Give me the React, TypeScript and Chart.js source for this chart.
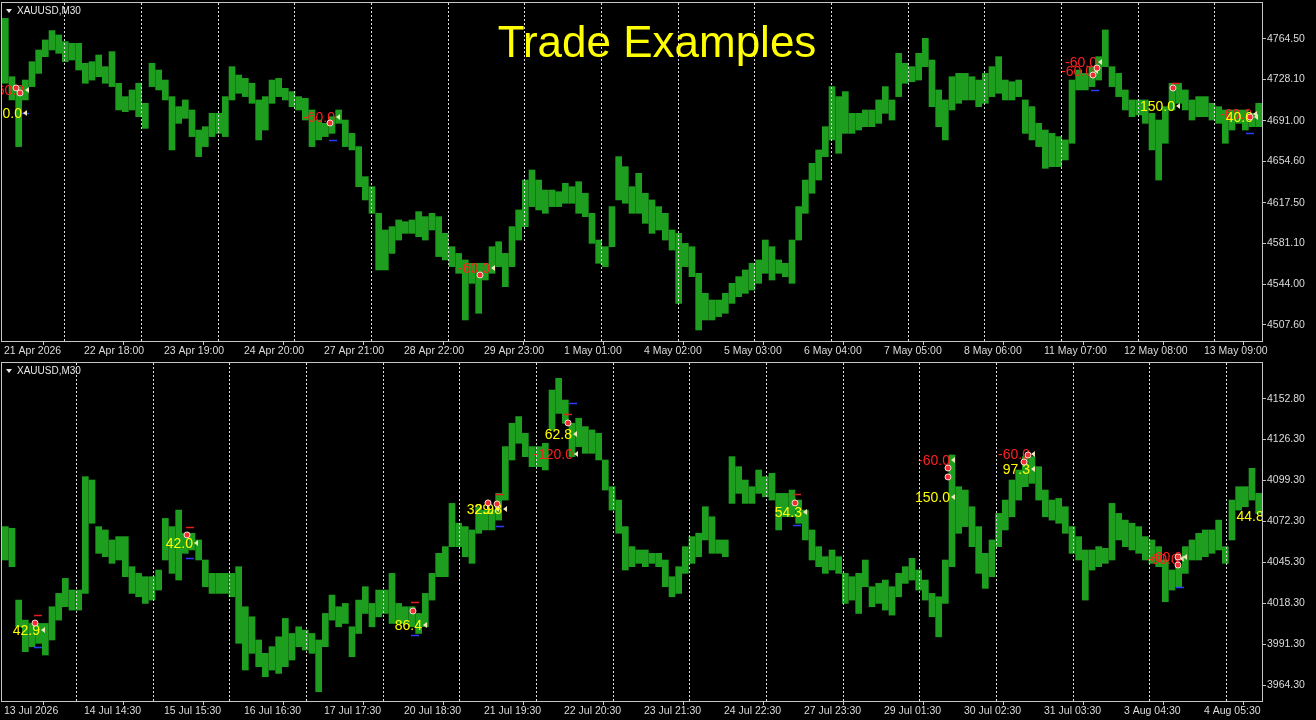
import React, { useEffect, useRef } from "react";
import { Chart, registerables } from "chart.js";

Chart.register(...registerables);

// ---------- data: top panel (XAUUSD M30, 21 Apr – 13 May 2026), one point = 4 bars ----------
const TOP_HIGH = [
  4783.0, 4730.6, 4721.7, 4727.6, 4744.1, 4754.6, 4763.6, 4772.0, 4768.1, 4762.1,
  4760.6, 4760.6, 4742.6, 4744.1, 4750.1, 4739.6, 4753.1, 4724.7, 4712.7, 4718.7,
  4724.7, 4706.7, 4742.6, 4736.6, 4727.6, 4712.7, 4703.7, 4709.7, 4700.7, 4682.7,
  4685.7, 4697.7, 4697.7, 4712.7, 4739.6, 4732.1, 4729.1, 4724.7, 4709.7, 4712.7,
  4727.6, 4729.1, 4720.2, 4717.2, 4712.7, 4711.2, 4700.7, 4691.7, 4688.7, 4694.7,
  4700.7, 4691.7, 4679.7, 4667.8, 4640.8, 4631.8, 4607.9, 4592.9, 4595.9, 4601.9,
  4600.4, 4601.9, 4609.4, 4604.9, 4607.9, 4604.9, 4589.9, 4577.9, 4571.9, 4566.0,
  4563.0, 4563.0, 4563.0, 4577.9, 4582.4, 4571.9, 4595.9, 4610.9, 4637.8, 4646.8,
  4637.8, 4628.8, 4628.8, 4627.3, 4634.8, 4631.8, 4636.3, 4625.9, 4607.9, 4583.9,
  4577.9, 4613.9, 4658.8, 4649.8, 4631.8, 4643.8, 4625.9, 4619.9, 4613.9, 4607.9,
  4592.9, 4589.9, 4580.9, 4577.9, 4554.0, 4536.0, 4530.0, 4530.0, 4536.0, 4545.0,
  4551.0, 4557.0, 4563.0, 4566.0, 4583.9, 4577.9, 4566.0, 4563.0, 4583.9, 4613.9,
  4637.8, 4652.8, 4664.8, 4685.7, 4721.7, 4712.7, 4717.2, 4697.7, 4697.7, 4700.7,
  4700.7, 4709.7, 4721.7, 4709.7, 4751.6, 4742.6, 4739.6, 4751.6, 4765.1, 4745.6,
  4718.7, 4709.7, 4730.6, 4733.6, 4733.6, 4730.6, 4727.6, 4733.6, 4739.6, 4748.6,
  4727.6, 4726.1, 4727.6, 4709.7, 4703.7, 4688.7, 4682.7, 4679.7, 4676.8, 4673.8,
  4727.6, 4736.6, 4733.6, 4739.6, 4748.6, 4772.6, 4739.6, 4733.6, 4718.7, 4709.7,
  4709.7, 4709.7, 4697.7, 4691.7, 4703.7, 4724.7, 4724.7, 4718.7, 4709.7, 4712.7,
  4712.7, 4706.7, 4703.7, 4700.7, 4700.7, 4700.7, 4700.7, 4697.7, 4706.7,
];
const TOP_LOW = [
  4724.7, 4709.7, 4667.8, 4709.7, 4721.7, 4733.6, 4748.6, 4754.6, 4751.6, 4744.1,
  4745.6, 4736.6, 4724.7, 4727.6, 4730.6, 4724.7, 4721.7, 4700.7, 4699.2, 4700.7,
  4694.7, 4684.2, 4721.7, 4718.7, 4709.7, 4664.8, 4688.7, 4693.2, 4676.8, 4658.8,
  4667.8, 4676.8, 4679.7, 4676.8, 4709.7, 4715.7, 4712.7, 4706.7, 4673.8, 4682.7,
  4706.7, 4712.7, 4709.7, 4703.7, 4700.7, 4691.7, 4667.8, 4673.8, 4676.8, 4679.7,
  4688.7, 4667.8, 4664.8, 4631.8, 4619.9, 4607.9, 4557.0, 4557.0, 4571.9, 4583.9,
  4589.9, 4589.9, 4586.9, 4583.9, 4592.9, 4569.0, 4566.0, 4560.0, 4554.0, 4512.1,
  4545.0, 4518.1, 4548.0, 4554.0, 4560.0, 4542.0, 4560.0, 4583.9, 4595.9, 4613.9,
  4610.9, 4607.9, 4613.9, 4613.9, 4616.9, 4616.9, 4607.9, 4604.9, 4580.9, 4563.0,
  4560.0, 4577.9, 4619.9, 4616.9, 4607.9, 4607.9, 4598.9, 4589.9, 4592.9, 4583.9,
  4574.9, 4527.0, 4560.0, 4551.0, 4503.1, 4512.1, 4512.1, 4515.1, 4518.1, 4527.0,
  4533.0, 4536.0, 4539.0, 4545.0, 4554.0, 4548.0, 4554.0, 4551.0, 4545.0, 4583.9,
  4607.9, 4625.9, 4637.8, 4658.8, 4673.8, 4661.8, 4679.7, 4679.7, 4682.7, 4685.7,
  4685.7, 4688.7, 4697.7, 4691.7, 4712.7, 4724.7, 4726.1, 4727.6, 4739.6, 4703.7,
  4685.7, 4673.8, 4700.7, 4706.7, 4709.7, 4709.7, 4703.7, 4706.7, 4712.7, 4715.7,
  4709.7, 4709.7, 4712.7, 4679.7, 4673.8, 4667.8, 4648.3, 4649.8, 4649.8, 4655.8,
  4670.8, 4718.7, 4718.7, 4721.7, 4727.6, 4739.6, 4721.7, 4712.7, 4700.7, 4694.7,
  4696.2, 4688.7, 4664.8, 4637.8, 4670.8, 4700.7, 4706.7, 4700.7, 4691.7, 4694.7,
  4694.7, 4691.7, 4688.7, 4670.8, 4682.7, 4688.7, 4682.7, 4685.7, 4685.7,
];

// ---------- data: bottom panel (XAUUSD M30, 13 Jul – 4 Aug 2026) ----------
const BOT_HIGH = [
  4068.7, 4067.6, 4020.3, 4007.1, 4004.9, 4004.9, 4004.9, 4015.9, 4024.7, 4034.6,
  4026.9, 4026.9, 4101.6, 4099.4, 4068.7, 4066.5, 4059.9, 4062.1, 4062.1, 4042.3,
  4037.9, 4035.7, 4035.7, 4040.1, 4074.1, 4068.7, 4079.6, 4064.3, 4064.3, 4059.9,
  4046.7, 4037.9, 4037.9, 4037.9, 4037.9, 4042.3, 4015.9, 4009.3, 3994.0, 3985.2,
  3989.6, 3996.1, 4008.2, 3998.3, 4002.7, 4000.5, 3998.3, 3994.0, 4011.5, 4023.6,
  4015.9, 4018.1, 4002.7, 4020.3, 4029.1, 4018.1, 4026.9, 4026.9, 4037.9, 4018.1,
  4015.9, 4015.9, 4011.5, 4024.7, 4037.9, 4051.1, 4055.5, 4084.0, 4070.9, 4068.7,
  4066.5, 4081.8, 4079.6, 4079.6, 4090.6, 4121.4, 4136.8, 4141.2, 4130.2, 4121.4,
  4121.4, 4123.6, 4158.7, 4166.4, 4152.1, 4136.8, 4140.1, 4134.6, 4132.4, 4130.2,
  4112.6, 4095.0, 4086.2, 4068.7, 4055.5, 4053.3, 4053.3, 4051.1, 4051.1, 4046.7,
  4035.7, 4042.3, 4055.5, 4062.1, 4064.3, 4081.8, 4075.2, 4059.9, 4059.9, 4114.8,
  4108.2, 4099.4, 4095.0, 4106.0, 4101.6, 4103.8, 4090.6, 4090.6, 4092.8, 4086.2,
  4079.6, 4066.5, 4055.5, 4048.9, 4053.3, 4048.9, 4037.9, 4035.7, 4037.9, 4046.7,
  4029.1, 4031.3, 4033.5, 4029.1, 4037.9, 4042.3, 4047.8, 4040.1, 4033.5, 4024.7,
  4022.5, 4046.7, 4115.9, 4095.0, 4092.8, 4081.8, 4068.7, 4051.1, 4059.9, 4077.4,
  4086.2, 4099.4, 4106.0, 4114.8, 4114.8, 4108.2, 4092.8, 4086.2, 4087.3, 4081.8,
  4068.7, 4062.1, 4053.3, 4053.3, 4055.5, 4054.4, 4084.0, 4077.4, 4073.0, 4070.9,
  4068.7, 4062.1, 4059.9, 4055.5, 4046.7, 4040.1, 4042.3, 4055.5, 4059.9, 4064.3,
  4066.5, 4066.5, 4073.0, 4055.5, 4086.2, 4095.0, 4095.0, 4107.1, 4090.6,
];
const BOT_LOW = [
  4046.7, 4042.3, 4002.7, 3986.3, 3989.6, 3991.8, 3984.1, 3994.0, 4007.1, 4015.9,
  4013.7, 4013.7, 4024.7, 4070.9, 4051.1, 4048.9, 4044.5, 4046.7, 4035.7, 4024.7,
  4022.5, 4018.1, 4020.3, 4026.9, 4046.7, 4037.9, 4033.5, 4051.1, 4053.3, 4046.7,
  4029.1, 4024.7, 4024.7, 4024.7, 4022.5, 3991.8, 3974.2, 3985.2, 3976.4, 3969.8,
  3974.2, 3972.0, 3976.4, 3980.8, 3989.6, 3987.4, 3985.2, 3959.9, 3989.6, 4007.1,
  4002.7, 4004.9, 3983.0, 3998.3, 4011.5, 4002.7, 4009.3, 4011.5, 4004.9, 4004.9,
  4004.9, 4002.7, 3998.3, 4002.7, 4020.3, 4035.7, 4035.7, 4055.5, 4055.5, 4048.9,
  4044.5, 4064.3, 4066.5, 4066.5, 4073.0, 4086.2, 4112.6, 4123.6, 4114.8, 4108.2,
  4108.2, 4106.0, 4132.4, 4143.3, 4136.8, 4114.8, 4121.4, 4117.0, 4117.0, 4112.6,
  4092.8, 4079.6, 4064.3, 4040.1, 4042.3, 4044.5, 4042.3, 4044.5, 4042.3, 4029.1,
  4022.5, 4024.7, 4037.9, 4044.5, 4048.9, 4059.9, 4051.1, 4051.1, 4048.9, 4084.0,
  4090.6, 4084.0, 4084.0, 4090.6, 4088.4, 4086.2, 4066.5, 4075.2, 4075.2, 4070.9,
  4059.9, 4046.7, 4042.3, 4037.9, 4040.1, 4037.9, 4018.1, 4020.3, 4011.5, 4029.1,
  4015.9, 4018.1, 4013.7, 4010.4, 4022.5, 4031.3, 4033.5, 4026.9, 4020.3, 4009.3,
  3996.1, 4018.1, 4042.3, 4064.3, 4068.7, 4055.5, 4037.9, 4028.0, 4035.7, 4055.5,
  4066.5, 4075.2, 4086.2, 4095.0, 4097.2, 4086.2, 4075.2, 4073.0, 4070.9, 4064.3,
  4051.1, 4046.7, 4020.3, 4040.1, 4042.3, 4044.5, 4046.7, 4059.9, 4055.5, 4053.3,
  4051.1, 4046.7, 4044.5, 4042.3, 4019.2, 4026.9, 4029.1, 4037.9, 4046.7, 4046.7,
  4048.9, 4051.1, 4053.3, 4044.5, 4059.9, 4079.6, 4081.8, 4086.2, 4077.4,
];

// ---------- axis labels / ticks ----------
const TOP_X_LABELS = [
  "21 Apr 2026", "22 Apr 18:00", "23 Apr 19:00", "24 Apr 20:00", "27 Apr 21:00", "28 Apr 22:00",
  "29 Apr 23:00", "1 May 01:00", "4 May 02:00", "5 May 03:00", "6 May 04:00", "7 May 05:00",
  "8 May 06:00", "11 May 07:00", "12 May 08:00", "13 May 09:00",
];
const BOT_X_LABELS = [
  "13 Jul 2026", "14 Jul 14:30", "15 Jul 15:30", "16 Jul 16:30", "17 Jul 17:30", "20 Jul 18:30",
  "21 Jul 19:30", "22 Jul 20:30", "23 Jul 21:30", "24 Jul 22:30", "27 Jul 23:30", "29 Jul 01:30",
  "30 Jul 02:30", "31 Jul 03:30", "3 Aug 04:30", "4 Aug 05:30",
];
// label tick positions in M30 bar units
const X_LABEL_POS = [0.6, 48.6, 96.6, 144.6, 192.6, 240.6, 288.6, 336.6, 384.6, 432.6, 480.6, 528.6, 576.6, 624.6, 672.6, 720.6];
// day separators in M30 bar units
const TOP_SEPARATORS = [14.7, 60.7, 106.7, 152.7, 198.7, 244.7, 290.7, 336.7, 382.7, 428.7, 474.7, 520.7, 566.7, 612.7, 658.7, 704.7, 750.7];
const BOT_SEPARATORS = [21.6, 67.6, 113.6, 159.6, 205.6, 251.6, 297.6, 343.6, 389.6, 435.6, 481.6, 527.6, 573.6, 619.6, 665.6, 711.6];

const TOP_Y_TICKS = [4507.6, 4544.0, 4581.1, 4617.5, 4654.6, 4691.0, 4728.1, 4764.5];
const BOT_Y_TICKS = [3964.3, 3991.3, 4018.3, 4045.3, 4072.3, 4099.3, 4126.3, 4152.8];

// ---------- trade annotations ----------
const RED = "#ff2020";
const YEL = "#ffff00";
const TOP_NOTES = [
  { x: 13.2, y: 4718.7, text: "-60.0", color: RED },
  { x: 12.0, y: 4698.0, text: "150.0", color: YEL },
  { x: 199.8, y: 4694.4, text: "-60.0", color: RED },
  { x: 292.8, y: 4558.8, text: "-60.0", color: RED },
  { x: 657.0, y: 4743.8, text: "-60.0", color: RED },
  { x: 654.6, y: 4735.7, text: "-60.0", color: RED },
  { x: 703.8, y: 4704.3, text: "150.0", color: YEL },
  { x: 750.0, y: 4697.1, text: "-60.0", color: RED },
  { x: 750.6, y: 4694.4, text: "40.0", color: YEL },
];
const BOT_NOTES = [
  { x: 22.8, y: 4000.6, text: "42.9", color: YEL },
  { x: 114.6, y: 4057.9, text: "42.0", color: YEL },
  { x: 252.0, y: 4003.9, text: "86.4", color: YEL },
  { x: 295.2, y: 4080.3, text: "32.9", color: YEL },
  { x: 300.0, y: 4080.3, text: "29.8", color: YEL },
  { x: 342.0, y: 4129.7, text: "62.8", color: YEL },
  { x: 342.6, y: 4116.6, text: "-120.0", color: RED },
  { x: 480.0, y: 4078.3, text: "54.3", color: YEL },
  { x: 568.8, y: 4112.6, text: "-60.0", color: RED },
  { x: 568.8, y: 4088.2, text: "150.0", color: YEL },
  { x: 616.8, y: 4116.6, text: "-60.0", color: RED },
  { x: 616.8, y: 4106.7, text: "97.3", color: YEL },
  { x: 708.0, y: 4048.7, text: "-60.0", color: RED },
  { x: 706.0, y: 4047.5, text: "-60.0", color: RED },
  { x: 757.0, y: 4075.7, text: "44.8", color: YEL },
];
const TOP_MARKS = [
  { x: 8.4, y: 4720.5 }, { x: 10.8, y: 4716.0 }, { x: 196.8, y: 4689.0 }, { x: 286.8, y: 4552.5 },
  { x: 654.6, y: 4732.1 }, { x: 657.0, y: 4738.4 }, { x: 702.6, y: 4720.5 }, { x: 748.8, y: 4694.4 },
];
const BOT_MARKS = [
  { x: 19.8, y: 4005.2 }, { x: 111.0, y: 4063.2 }, { x: 246.6, y: 4013.1 }, { x: 291.6, y: 4084.3 },
  { x: 297.0, y: 4083.6 }, { x: 339.6, y: 4137.0 }, { x: 475.8, y: 4084.3 }, { x: 567.6, y: 4107.3 },
  { x: 567.6, y: 4101.4 }, { x: 615.6, y: 4115.9 }, { x: 613.2, y: 4111.3 }, { x: 705.6, y: 4048.7 },
  { x: 705.6, y: 4043.4 },
];
const TOP_STOPS = [{ x: 704.4, y: 4725.0 }];
const TOP_TAKES = [{ x: 13.8, y: 4698.0 }, { x: 198.6, y: 4673.7 }, { x: 655.8, y: 4718.7 }, { x: 748.8, y: 4680.0 }];
const BOT_STOPS = [
  { x: 21.6, y: 4010.5 }, { x: 112.8, y: 4068.5 }, { x: 247.8, y: 4019.0 }, { x: 298.8, y: 4090.2 },
  { x: 339.6, y: 4142.9 }, { x: 477.0, y: 4090.2 },
];
const BOT_TAKES = [
  { x: 21.6, y: 3989.4 }, { x: 112.8, y: 4048.0 }, { x: 247.8, y: 3997.3 }, { x: 298.8, y: 4069.1 },
  { x: 342.6, y: 4150.2 }, { x: 477.0, y: 4069.8 }, { x: 706.8, y: 4028.9 },
];

const SYMBOL = "XAUUSD,M30";
const TITLE = "Trade Examples";

// ---------- style ----------
const GREEN = "rgb(30,158,30)";
const TEXT = "#dcdcdc";
const FRAME = "#c4c4c4";
const FONT = '"Liberation Sans", Arial, sans-serif';
const UNITS = 756; // M30 bars across the plot
const BARS_PER_POINT = 4;

type Pt = { x: number; y: number };
type Note = Pt & { text: string; color: string };

interface PanelProps {
  high: number[];
  low: number[];
  xLabels: string[];
  yTicks: number[];
  yMin: number;
  yMax: number;
  seps: number[];
  notes: Note[];
  marks: Pt[];
  stops: Pt[];
  takes: Pt[];
  height: number;
  padTop: number;
  xAxisH: number;
  headerY: number;
  showTitle: boolean;
  top: number;
}

function Panel(p: PanelProps) {
  const ref = useRef<HTMLCanvasElement>(null);
  useEffect(() => {
    const canvas = ref.current;
    if (!canvas) return;
    const data = p.high.map((h, i) => ({ x: i * BARS_PER_POINT + BARS_PER_POINT / 2, y: [p.low[i], h] }));

    const overlay = {
      id: "overlay",
      afterDatasetsDraw(chart: any) {
        const { ctx, chartArea } = chart;
        const xs = chart.scales.x;
        const ys = chart.scales.y;
        ctx.save();
        ctx.beginPath();
        ctx.rect(chartArea.left, chartArea.top, chartArea.right - chartArea.left, chartArea.bottom - chartArea.top);
        ctx.clip();
        ctx.lineWidth = 1.5;
        p.stops.forEach((s) => {
          const px = xs.getPixelForValue(s.x);
          const py = Math.round(ys.getPixelForValue(s.y)) + 0.5;
          ctx.strokeStyle = "#e02020";
          ctx.beginPath();
          ctx.moveTo(px - 4, py);
          ctx.lineTo(px + 4, py);
          ctx.stroke();
        });
        p.takes.forEach((s) => {
          const px = xs.getPixelForValue(s.x);
          const py = Math.round(ys.getPixelForValue(s.y)) + 0.5;
          ctx.strokeStyle = "#2a3cff";
          ctx.beginPath();
          ctx.moveTo(px - 4, py);
          ctx.lineTo(px + 4, py);
          ctx.stroke();
        });
        ctx.font = `14px ${FONT}`;
        ctx.textAlign = "right";
        ctx.textBaseline = "middle";
        p.notes.forEach((n) => {
          const px = xs.getPixelForValue(n.x);
          const py = ys.getPixelForValue(n.y);
          ctx.fillStyle = n.color;
          ctx.fillText(n.text, px, py + 1);
          ctx.fillStyle = "#efe6b8";
          ctx.beginPath();
          ctx.moveTo(px + 1, py);
          ctx.lineTo(px + 5, py - 3);
          ctx.lineTo(px + 5, py + 3);
          ctx.closePath();
          ctx.fill();
        });
        p.marks.forEach((m) => {
          const px = xs.getPixelForValue(m.x);
          const py = ys.getPixelForValue(m.y);
          ctx.beginPath();
          ctx.arc(px, py, 3, 0, Math.PI * 2);
          ctx.fillStyle = "#f03030";
          ctx.fill();
          ctx.lineWidth = 1;
          ctx.strokeStyle = "#ffd8d8";
          ctx.stroke();
        });
        ctx.restore();
      },
      afterDraw(chart: any) {
        const { ctx, chartArea } = chart;
        ctx.save();
        ctx.strokeStyle = FRAME;
        ctx.lineWidth = 1;
        ctx.strokeRect(chartArea.left - 0.5, chartArea.top - 0.5, chartArea.right - chartArea.left + 1, chartArea.bottom - chartArea.top + 1);
        const hy = p.headerY;
        ctx.fillStyle = "#e8e8e8";
        ctx.beginPath();
        ctx.moveTo(6, hy - 2);
        ctx.lineTo(12, hy - 2);
        ctx.lineTo(9, hy + 2);
        ctx.closePath();
        ctx.fill();
        ctx.font = `10px ${FONT}`;
        ctx.textAlign = "left";
        ctx.textBaseline = "middle";
        ctx.fillText(SYMBOL, 17, hy + 0.5);
        if (p.showTitle) {
          ctx.font = `44px ${FONT}`;
          ctx.fillStyle = "#ffff00";
          ctx.textAlign = "center";
          ctx.textBaseline = "alphabetic";
          ctx.fillText(TITLE, 657, 57);
        }
        ctx.restore();
      },
    };

    const tickFont = { family: FONT, size: 10.5 };
    const chart = new Chart(canvas, {
      type: "bar",
      data: {
        datasets: [
          {
            data: data as any,
            xAxisID: "x",
            yAxisID: "y",
            backgroundColor: GREEN,
            borderWidth: 0,
            barThickness: 6,
            grouped: false,
          } as any,
        ],
      },
      options: {
        animation: false,
        responsive: false,
        maintainAspectRatio: false,
        events: [],
        layout: { padding: { top: p.padTop, left: 2, right: 0, bottom: 0 } },
        plugins: { legend: { display: false }, tooltip: { enabled: false }, title: { display: false } },
        scales: {
          x: {
            type: "linear",
            position: "bottom",
            min: 0,
            max: UNITS,
            offset: false,
            afterBuildTicks: (s: any) => {
              s.ticks = X_LABEL_POS.map((v) => ({ value: v }));
            },
            afterFit: (s: any) => {
              s.height = p.xAxisH;
              s.paddingLeft = 0;
              s.paddingRight = 0;
            },
            ticks: {
              autoSkip: false,
              maxRotation: 0,
              minRotation: 0,
              align: "start",
              padding: 0,
              labelOffset: 1,
              color: TEXT,
              font: tickFont,
              callback: (_v: any, i: number) => p.xLabels[i],
            },
            grid: { drawOnChartArea: false, drawTicks: true, tickLength: 4, color: FRAME },
            border: { display: false },
          },
          sep: {
            type: "linear",
            position: "top",
            min: 0,
            max: UNITS,
            offset: false,
            afterBuildTicks: (s: any) => {
              s.ticks = p.seps.map((v) => ({ value: v }));
            },
            afterFit: (s: any) => {
              s.height = 0;
              s.paddingLeft = 0;
              s.paddingRight = 0;
            },
            ticks: { display: false },
            grid: { drawOnChartArea: true, drawTicks: false, color: "rgba(235,235,235,0.95)", lineWidth: 1, z: 1 },
            border: { display: false, dash: [2, 2] },
          },
          y: {
            type: "linear",
            position: "right",
            min: p.yMin,
            max: p.yMax,
            afterBuildTicks: (s: any) => {
              s.ticks = p.yTicks.map((v) => ({ value: v }));
            },
            afterFit: (s: any) => {
              s.width = 54;
              s.paddingTop = 0;
              s.paddingBottom = 0;
            },
            ticks: { color: TEXT, font: tickFont, padding: 1, callback: (v: any) => Number(v).toFixed(2) },
            grid: { drawOnChartArea: false, drawTicks: true, tickLength: 4, color: FRAME },
            border: { display: false },
          },
        } as any,
      },
      plugins: [overlay],
    });
    return () => chart.destroy();
  }, []);

  return (
    <canvas
      ref={ref}
      width={1316}
      height={p.height}
      style={{ position: "absolute", left: 0, top: p.top, width: 1316, height: p.height, display: "block" }}
    />
  );
}

export default function App() {
  useEffect(() => {
    document.body.style.margin = "0";
    document.body.style.background = "#000";
  }, []);
  return (
    <div style={{ position: "relative", width: 1316, height: 720, background: "#000", overflow: "hidden" }}>
      <Panel
        high={TOP_HIGH}
        low={TOP_LOW}
        xLabels={TOP_X_LABELS}
        yTicks={TOP_Y_TICKS}
        yMin={4493.2}
        yMax={4796.8}
        seps={TOP_SEPARATORS}
        notes={TOP_NOTES}
        marks={TOP_MARKS}
        stops={TOP_STOPS}
        takes={TOP_TAKES}
        height={362}
        padTop={3}
        xAxisH={21}
        headerY={11}
        showTitle={true}
        top={0}
      />
      <Panel
        high={BOT_HIGH}
        low={BOT_LOW}
        xLabels={BOT_X_LABELS}
        yTicks={BOT_Y_TICKS}
        yMin={3953.8}
        yMax={4176.5}
        seps={BOT_SEPARATORS}
        notes={BOT_NOTES}
        marks={BOT_MARKS}
        stops={BOT_STOPS}
        takes={BOT_TAKES}
        height={358}
        padTop={1}
        xAxisH={19}
        headerY={9}
        showTitle={false}
        top={362}
      />
    </div>
  );
}
